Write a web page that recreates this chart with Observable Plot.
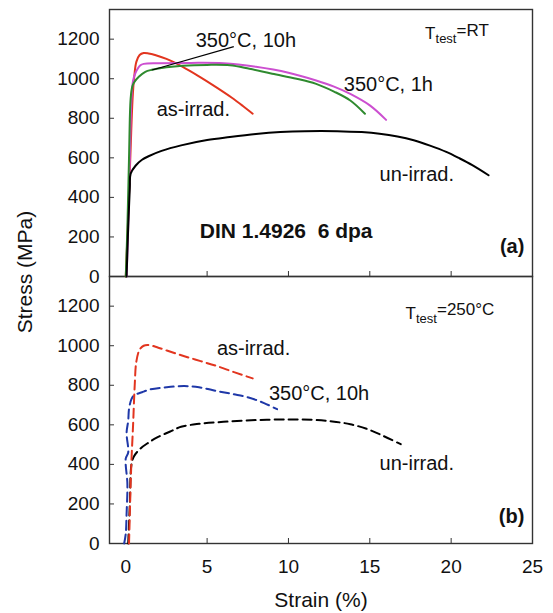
<!DOCTYPE html>
<html><head><meta charset="utf-8">
<script src="https://cdn.jsdelivr.net/npm/d3@7"></script>
<script src="https://cdn.jsdelivr.net/npm/@observablehq/plot@0.6"></script>
<style>
body{margin:0;background:#fff;}
#wrap{position:relative;width:553px;height:613px;font-family:"Liberation Sans",Arial,sans-serif;}
#ylab{position:absolute;left:-75px;top:260px;width:200px;text-align:center;font-size:21px;line-height:24px;transform:rotate(-90deg);color:#111;}
svg text{white-space:pre;}
</style></head><body><div id="wrap"><div id="ylab">Stress (MPa)</div></div>
<script>
// ---- data (strain %, stress MPa) ----
const panels = ["a", "b"];
const xTicks = [0, 5, 10, 15, 20, 25];
const xInnerTicks = [5, 10, 15, 20];
const yTicks = [0, 200, 400, 600, 800, 1000, 1200];

// Panel (a): T_test = RT (solid)
const asIrradRT = [[0.0,0],[0.15,300],[0.3,650],[0.42,900],[0.52,1010],[0.65,1085],[0.85,1120],[1.1,1130],[1.4,1128],[1.8,1120],[2.5,1100],[3.5,1060],[4.5,1012],[5.5,960],[6.5,905],[7.2,862],[7.8,823]];
const h10RT = [[0.0,0],[0.1,250],[0.2,600],[0.3,900],[0.4,960],[0.5,980],[0.8,1010],[1.2,1035],[1.6,1045],[2.5,1058],[3.5,1066],[5,1070],[6.4,1068],[7.6,1050],[9,1025],[10.5,1000],[11.7,974],[12.8,935],[13.8,890],[14.7,823]];
const h1RT = [[0.05,0],[0.15,250],[0.25,600],[0.35,900],[0.45,990],[0.6,1030],[0.9,1068],[1.1,1075],[2,1078],[4,1080],[6,1078],[8,1060],[10,1030],[11.7,991],[12.8,960],[13.8,923],[15,865],[16,792]];
const unIrradRT = [[0.05,0],[0.15,250],[0.25,450],[0.3,520],[0.6,560],[1.0,590],[1.4,608],[2.2,635],[3.4,663],[5,690],[6.4,705],[8,720],[9.5,730],[11,735],[13,735],[14.5,730],[15.6,722],[16.7,708],[17.7,689],[18.7,662],[19.7,630],[20.5,598],[21.3,563],[22.3,512]];

// Panel (b): T_test = 250°C (dashed)
const asIrrad250 = [[0.2,0],[0.25,150],[0.3,300],[0.35,420],[0.45,600],[0.55,800],[0.65,920],[0.85,980],[1.1,1000],[1.45,1003],[2,990],[2.8,968],[3.6,947],[4.6,922],[5.6,897],[6.7,865],[7.8,835]];
const h10_250 = [[-0.1,0],[0.0,50],[0.05,150],[0.1,300],[0.0,430],[0.15,460],[0.05,560],[0.15,620],[0.2,680],[0.35,730],[0.5,748],[1,765],[1.5,779],[2.5,790],[3.6,796],[4.5,790],[5.6,771],[6.6,755],[7.6,737],[8.5,710],[9.3,679]];
const unIrrad250 = [[0.15,0],[0.25,200],[0.35,400],[0.5,440],[0.9,480],[1.4,510],[1.9,535],[2.7,565],[3.4,590],[4.5,605],[6,615],[8,624],[10,627],[11.5,625],[12.7,617],[13.8,603],[14.8,580],[15.8,545],[16.9,502]];

const series = [
  {panel:"a", key:"a-as", color:"#e2351f", pts:asIrradRT},
  {panel:"a", key:"a-1h", color:"#cc4fd0", pts:h1RT},
  {panel:"a", key:"a-10h", color:"#2f8a2f", pts:h10RT},
  {panel:"a", key:"a-un", color:"#000000", pts:unIrradRT},
  {panel:"b", key:"b-un", color:"#000000", pts:unIrrad250},
  {panel:"b", key:"b-10h", color:"#1f38a8", pts:h10_250},
  {panel:"b", key:"b-as", color:"#e2351f", pts:asIrrad250}
];
const rows = series.flatMap(s => s.pts.map(([x, y]) => ({panel:s.panel, key:s.key, color:s.color, x, y})));

const labels = [
  {panel:"a", x:4.3, y:1194, text:"350°C, 10h"},
  {panel:"a", x:1.9, y:846, text:"as-irrad."},
  {panel:"a", x:13.4, y:972, text:"350°C, 1h"},
  {panel:"a", x:15.6, y:514, text:"un-irrad."},
  {panel:"b", x:5.6, y:986, text:"as-irrad."},
  {panel:"b", x:8.8, y:756, text:"350°C, 10h"},
  {panel:"b", x:15.6, y:403, text:"un-irrad."}
];
const tLabels = [
  {panel:"a", x:18.4, y:1229, text:"T_test=RT"},
  {panel:"b", x:17.2, y:1165, text:"T_test=250°C"}
];
const boldLabels = [
  {panel:"a", x:4.55, y:227, text:"DIN 1.4926  6 dpa"}
];
const panelTags = [
  {panel:"a", x:24.5, y:151, text:"(a)"},
  {panel:"b", x:24.5, y:136, text:"(b)"}
];
const leader = [{panel:"a", x1:6.64, y1:1162, x2:1.62, y2:1044}];

const solid = rows.filter(d => d.panel === "a");
const dashed = rows.filter(d => d.panel === "b");

const chart = Plot.plot({
  width: 553,
  height: 613,
  marginTop: 8,
  marginBottom: 70,
  marginLeft: 109,
  marginRight: 21,
  style: {fontFamily: "'Liberation Sans', Arial, sans-serif", fontSize: "19px", color: "#111", background: "#fff"},
  x: {domain: [-1, 25]},
  y: {domain: [0, 1350]},
  fy: {domain: panels, padding: 0, axis: null},
  color: {type: "identity"},
  marks: [
    Plot.frame({stroke: "#333", strokeWidth: 1.4}),
    Plot.axisY(yTicks, {tickSize: -5, tickPadding: 15, tickFormat: d => String(d), label: null, stroke: "#333"}),
    Plot.axisX(xTicks, {tickSize: 0, tickPadding: 16, tickFormat: d => String(d), label: "Strain (%)", labelAnchor: "center", labelOffset: 63, labelArrow: "none"}),
    Plot.axisX(xInnerTicks, {tickSize: -5, tickFormat: () => "", label: null, facetAnchor: null, stroke: "#333"}),
    Plot.line(solid, {x: "x", y: "y", z: "key", stroke: "color", fy: "panel", strokeWidth: 2, curve: "catmull-rom"}),
    Plot.line(dashed, {x: "x", y: "y", z: "key", stroke: "color", fy: "panel", strokeWidth: 2, strokeDasharray: "9,5", curve: "catmull-rom"}),
    Plot.link(leader, {x1: "x1", y1: "y1", x2: "x2", y2: "y2", fy: "panel", stroke: "#000", strokeWidth: 1.2}),
    Plot.text(labels, {x: "x", y: "y", text: "text", fy: "panel", textAnchor: "start", fontSize: 20, fill: "#111"}),
    Plot.text(tLabels, {x: "x", y: "y", text: "text", fy: "panel", textAnchor: "start", fontSize: 17, fill: "#111"}),
    Plot.text(boldLabels, {x: "x", y: "y", text: "text", fy: "panel", textAnchor: "start", fontSize: 21, fontWeight: "bold", fill: "#111"}),
    Plot.text(panelTags, {x: "x", y: "y", text: "text", fy: "panel", textAnchor: "end", fontSize: 20, fontWeight: "bold", fill: "#111"})
  ]
});

// larger axis title
chart.querySelectorAll('g[aria-label="x-axis label"] text').forEach(t => { t.style.fontSize = "21px"; t.style.fill = "#111"; });

// subscripts for T_test
chart.querySelectorAll("text").forEach(t => {
  const s = t.textContent;
  if (s.startsWith("T_test")) {
    const rest = s.slice(6);
    while (t.firstChild) t.removeChild(t.firstChild);
    const ns = "http://www.w3.org/2000/svg";
    const a = document.createElementNS(ns, "tspan"); a.textContent = "T";
    const b = document.createElementNS(ns, "tspan"); b.textContent = "test"; b.setAttribute("dy", "0.35em"); b.setAttribute("font-size", "13");
    const c = document.createElementNS(ns, "tspan"); c.textContent = rest; c.setAttribute("dy", "-0.45em");
    t.append(a, b, c);
  }
});

document.getElementById("wrap").prepend(chart);
</script>
</body></html>
